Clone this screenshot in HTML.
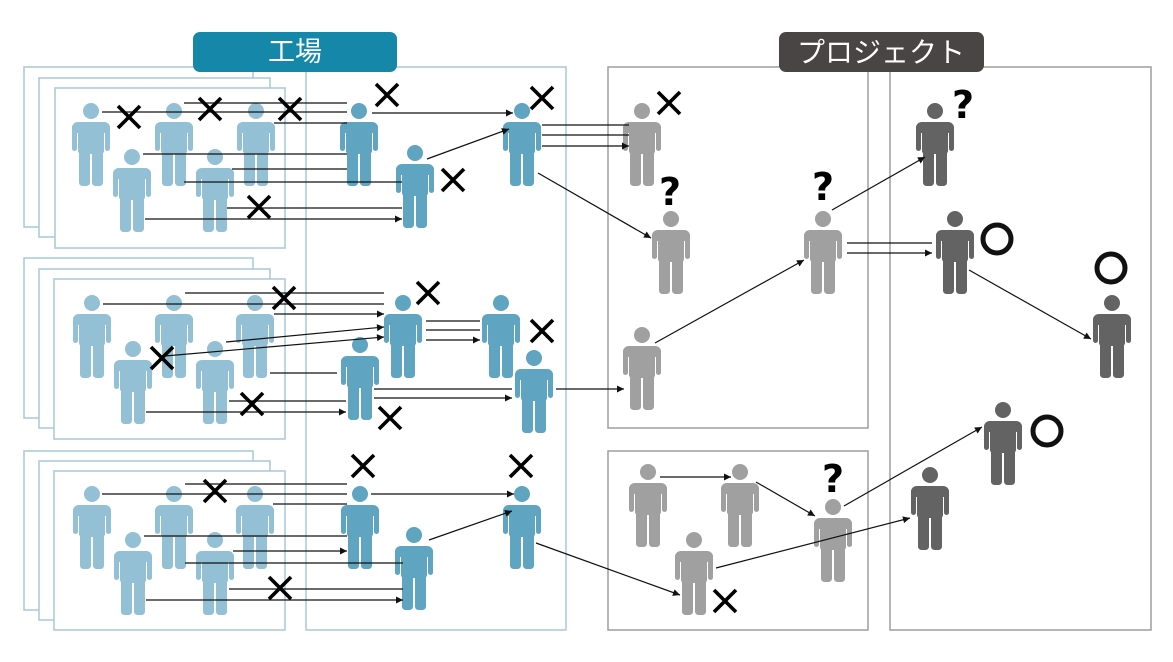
<!DOCTYPE html>
<html><head><meta charset="utf-8"><style>
html,body{margin:0;padding:0;background:#fff;}
svg{display:block;}
</style></head><body>
<svg width="1173" height="662" viewBox="0 0 1173 662" xmlns="http://www.w3.org/2000/svg">
<defs>
<marker id="a" viewBox="0 0 10 10" refX="10" refY="5" markerWidth="9" markerHeight="7" markerUnits="userSpaceOnUse" orient="auto"><path d="M0,0L10,5L0,10z" fill="#111"/></marker>
<g id="p">
<circle cx="0" cy="8" r="8"/>
<rect x="-19" y="19" width="38" height="11" rx="6"/>
<rect x="-13" y="19" width="26" height="32" rx="3"/>
<rect x="-19" y="22" width="5" height="26" rx="2.5"/>
<rect x="14" y="22" width="5" height="26" rx="2.5"/>
<rect x="-12" y="46" width="11" height="37" rx="3.5"/>
<rect x="1" y="46" width="11" height="37" rx="3.5"/>
</g>
<g id="x"><path d="M-11,-11L11,11M11,-11L-11,11" stroke="#000" stroke-width="3.6"/></g>
</defs>

<!-- frames left -->
<g fill="#fff" stroke="#a9c9d7" stroke-width="1.5">
<rect x="24" y="67" width="229" height="160"/><rect x="39" y="78" width="231" height="159"/><rect x="55" y="88" width="230" height="160"/>
<rect x="24" y="258" width="229" height="160"/><rect x="39" y="269" width="231" height="159"/><rect x="54" y="279" width="231" height="160"/>
<rect x="24" y="451" width="229" height="159"/><rect x="39" y="461" width="231" height="159"/><rect x="54" y="471" width="231" height="159"/>
<rect x="306" y="67" width="260" height="563" fill="none"/>
</g>
<g fill="none" stroke="#9d9d9d" stroke-width="1.5">
<rect x="608" y="67" width="260" height="361"/>
<rect x="608" y="451" width="260" height="179"/>
<rect x="890" y="67" width="261" height="563"/>
</g>

<!-- labels -->
<rect x="193" y="32" width="204" height="40" rx="7" fill="#1588aa"/>
<text x="295" y="61" text-anchor="middle" fill="#fff" font-family="Liberation Sans, Noto Sans CJK JP, sans-serif" font-size="27">工場</text>
<rect x="779" y="32" width="205" height="40" rx="7" fill="#4a4545"/>
<text x="881" y="62" text-anchor="middle" fill="#fff" font-family="Liberation Sans, Noto Sans CJK JP, sans-serif" font-size="28">プロジェクト</text>

<!-- persons -->
<g fill="#93c0d4">
<use href="#p" x="91" y="103"/><use href="#p" x="174" y="103"/><use href="#p" x="256" y="103"/><use href="#p" x="132" y="149"/><use href="#p" x="215" y="149"/>
<use href="#p" x="92" y="295"/><use href="#p" x="174" y="295"/><use href="#p" x="255" y="295"/><use href="#p" x="133" y="341"/><use href="#p" x="215" y="341"/>
<use href="#p" x="92" y="486"/><use href="#p" x="174" y="486"/><use href="#p" x="255" y="486"/><use href="#p" x="133" y="532"/><use href="#p" x="215" y="532"/>
</g>
<g fill="#5fa4c0">
<use href="#p" x="359" y="103"/><use href="#p" x="415" y="145"/><use href="#p" x="522" y="103"/>
<use href="#p" x="403" y="295"/><use href="#p" x="360" y="337"/><use href="#p" x="501" y="295"/><use href="#p" x="534" y="350"/>
<use href="#p" x="360" y="486"/><use href="#p" x="414" y="527"/><use href="#p" x="522" y="486"/>
</g>
<g fill="#a0a0a0">
<use href="#p" x="642" y="103"/><use href="#p" x="671" y="211"/><use href="#p" x="823" y="211"/><use href="#p" x="642" y="327"/>
<use href="#p" x="648" y="464"/><use href="#p" x="740" y="464"/><use href="#p" x="694" y="532"/><use href="#p" x="833" y="499"/>
</g>
<g fill="#636363">
<use href="#p" x="935" y="103"/><use href="#p" x="955" y="211"/><use href="#p" x="1112" y="295"/><use href="#p" x="1003" y="402"/><use href="#p" x="930" y="467"/>
</g>

<!-- arrows -->
<g stroke="#111" stroke-width="1.2" fill="none" marker-end="url(#a)">
<path d="M184,103H347M102,112H347M274,123H347M143,154H347M232,169H347M184,182H402M227,208H402M145,219H402"/>
<path d="M372,113H513"/><path d="M427,159L509,129"/>
<path d="M542,125H629M542,135H629M542,146H629"/><path d="M538,173L651,238"/>
<path d="M185,293H384M103,304H384M274,314H384"/><path d="M226,342L384,327"/><path d="M165,356L384,337"/>
<path d="M270,373H337M229,401H346M146,412H346"/>
<path d="M426,321H480M426,330H480M426,340H480"/>
<path d="M374,389H512M374,398H512"/><path d="M556,389H624"/>
<path d="M185,484H347M102,494H347M273,504H347M144,536H347M233,551H347"/>
<path d="M185,563H403M229,589H403M146,600H403"/>
<path d="M371,494H514"/><path d="M429,540L512,511"/><path d="M536,543L680,595"/>
<path d="M655,343L804,260"/><path d="M832,210L925,157"/><path d="M847,243H932M847,253H932"/><path d="M969,270L1091,339"/>
<path d="M660,477H731"/><path d="M756,482L815,516"/><path d="M716,568L910,518"/><path d="M844,506L982,427"/>
</g>

<!-- X marks -->
<g>
<use href="#x" x="129" y="117"/><use href="#x" x="210" y="109"/><use href="#x" x="290" y="109"/><use href="#x" x="387" y="95"/><use href="#x" x="542" y="98"/><use href="#x" x="453" y="180"/><use href="#x" x="259" y="207"/>
<use href="#x" x="284" y="298"/><use href="#x" x="162" y="358"/><use href="#x" x="428" y="293"/><use href="#x" x="542" y="331"/><use href="#x" x="252" y="404"/><use href="#x" x="390" y="418"/>
<use href="#x" x="215" y="491"/><use href="#x" x="363" y="466"/><use href="#x" x="521" y="466"/><use href="#x" x="280" y="588"/>
<use href="#x" x="669" y="103"/><use href="#x" x="725" y="601"/>
</g>
<!-- question marks -->
<g font-family="DejaVu Sans, Liberation Sans, sans-serif" font-weight="bold" font-size="38" fill="#000" text-anchor="middle">
<text x="670" y="205">?</text><text x="823" y="200">?</text><text x="963" y="118">?</text><text x="833" y="492">?</text>
</g>
<!-- circles -->
<g fill="none" stroke="#111" stroke-width="5">
<circle cx="997" cy="239" r="14"/><circle cx="1111" cy="268" r="14"/><circle cx="1047" cy="431" r="14"/>
</g>
</svg>
</body></html>
